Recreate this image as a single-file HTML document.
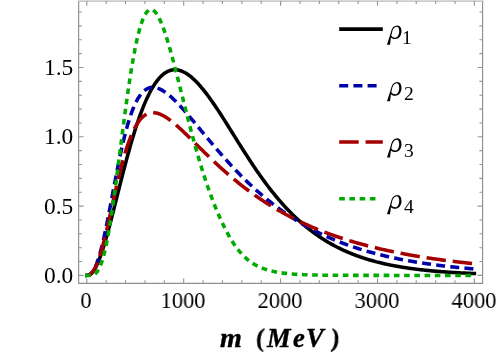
<!DOCTYPE html>
<html><head><meta charset="utf-8"><title>plot</title>
<style>
html,body{margin:0;padding:0;background:#fff;}
#c{position:relative;width:498px;height:353px;overflow:hidden;background:#fff;font-family:"Liberation Serif",serif;color:#000;}
.t{position:absolute;will-change:transform;white-space:nowrap;line-height:1;font-size:23.4px;}
.xl{transform:translateX(-50%) scaleX(0.96);top:288.8px;}
.yl{text-align:right;right:424.5px;}
.sub{font-size:19.5px;}
.ax{font-weight:bold;font-style:italic;font-size:26.5px;top:325px;-webkit-text-stroke:0.4px #000;}
</style></head><body><div id="c">
<svg width="498" height="353" viewBox="0 0 498 353" style="position:absolute;left:0;top:0">
<defs><path id="rho" fill-rule="evenodd" d="M386.99,44.29 L389.98,44.29 L390.95,37.2 C392.2,38.3 393.8,38.7 395.6,38.67 C399.2,38.6 401.6,34.6 401.5,30.7 C401.4,27.2 399.9,25.07 397.6,25.07 C395.4,25.07 393.8,26.0 392.7,27.4 C391.6,28.9 391.2,30.6 390.8,32.4 Z M391.3,35.3 C392.2,36.6 393.6,37.35 395.4,37.3 C397.8,37.2 399.3,33.9 399.2,30.7 C399.1,27.9 398.4,26.34 396.9,26.34 C394.2,26.4 392.7,29.3 392.1,31.8 Z"/></defs>
<path d="M86.80,275.40 L87.77,275.34 L88.74,275.11 L89.71,274.69 L90.68,274.05 L91.65,273.19 L92.61,272.11 L93.58,270.82 L94.55,269.31 L95.52,267.60 L96.49,265.70 L97.46,263.60 L98.43,261.33 L99.40,258.89 L100.37,256.29 L101.34,253.54 L102.30,250.66 L103.27,247.64 L104.24,244.51 L105.21,241.27 L106.18,237.93 L107.15,234.50 L108.12,230.99 L109.09,227.41 L110.06,223.77 L111.03,220.07 L111.99,216.33 L112.96,212.56 L113.93,208.75 L114.90,204.92 L115.87,201.08 L116.84,197.23 L117.81,193.38 L118.78,189.53 L119.75,185.69 L120.72,181.88 L121.68,178.08 L122.65,174.31 L123.62,170.57 L124.59,166.86 L125.56,163.20 L126.53,159.58 L127.50,156.01 L128.47,152.48 L129.44,149.02 L130.41,145.61 L131.37,142.26 L132.34,138.98 L133.31,135.76 L134.28,132.61 L135.25,129.53 L136.22,126.52 L137.19,123.58 L138.16,120.72 L139.13,117.93 L140.10,115.22 L141.06,112.59 L142.03,110.04 L143.00,107.57 L143.97,105.18 L144.94,102.87 L145.91,100.64 L146.88,98.49 L147.85,96.42 L148.82,94.44 L149.79,92.53 L150.75,90.71 L151.72,88.97 L152.69,87.31 L153.66,85.73 L154.63,84.23 L155.60,82.81 L156.57,81.46 L157.54,80.20 L158.51,79.01 L159.48,77.90 L160.44,76.87 L161.41,75.91 L162.38,75.02 L163.35,74.21 L164.32,73.47 L165.29,72.80 L166.26,72.19 L167.23,71.66 L168.20,71.20 L169.17,70.80 L170.13,70.47 L171.10,70.20 L172.07,69.99 L173.04,69.85 L174.01,69.77 L174.98,69.74 L175.95,69.78 L176.92,69.87 L177.89,70.02 L178.86,70.22 L179.82,70.47 L180.79,70.78 L181.76,71.14 L182.73,71.54 L183.70,72.00 L184.67,72.50 L185.64,73.05 L186.61,73.64 L187.58,74.28 L188.55,74.96 L189.51,75.68 L190.48,76.44 L191.45,77.24 L192.42,78.07 L193.39,78.95 L194.36,79.86 L195.33,80.80 L196.30,81.77 L197.27,82.78 L198.24,83.82 L199.20,84.89 L200.17,85.99 L201.14,87.12 L202.11,88.27 L203.08,89.45 L204.05,90.66 L205.02,91.88 L205.99,93.14 L206.96,94.41 L207.93,95.71 L208.89,97.02 L209.86,98.36 L210.83,99.71 L211.80,101.08 L212.77,102.47 L213.74,103.88 L214.71,105.29 L215.68,106.73 L216.65,108.17 L217.62,109.63 L218.58,111.10 L219.55,112.59 L220.52,114.08 L221.49,115.58 L222.46,117.09 L223.43,118.61 L224.40,120.13 L225.37,121.66 L226.34,123.20 L227.31,124.74 L228.27,126.28 L229.24,127.83 L230.21,129.38 L231.18,130.94 L232.15,132.49 L233.12,134.05 L234.09,135.60 L235.06,137.16 L236.03,138.71 L237.00,140.26 L237.96,141.81 L238.93,143.36 L239.90,144.90 L240.87,146.44 L241.84,147.97 L242.81,149.50 L243.78,151.02 L244.75,152.54 L245.72,154.05 L246.69,155.56 L247.65,157.05 L248.62,158.54 L249.59,160.03 L250.56,161.50 L251.53,162.96 L252.50,164.42 L253.47,165.87 L254.44,167.30 L255.41,168.73 L256.38,170.15 L257.34,171.55 L258.31,172.95 L259.28,174.33 L260.25,175.71 L261.22,177.07 L262.19,178.42 L263.16,179.76 L264.13,181.09 L265.10,182.41 L266.07,183.71 L267.03,185.00 L268.00,186.28 L268.97,187.55 L269.94,188.81 L270.91,190.05 L271.88,191.28 L272.85,192.50 L273.82,193.71 L274.79,194.90 L275.76,196.08 L276.72,197.25 L277.69,198.40 L278.66,199.55 L279.63,200.68 L280.60,201.79 L281.57,202.90 L282.54,203.99 L283.51,205.07 L284.48,206.14 L285.45,207.19 L286.41,208.23 L287.38,209.26 L288.35,210.28 L289.32,211.28 L290.29,212.28 L291.26,213.26 L292.23,214.22 L293.20,215.18 L294.17,216.12 L295.14,217.05 L296.10,217.97 L297.07,218.88 L298.04,219.78 L299.01,220.66 L299.98,221.53 L300.95,222.39 L301.92,223.24 L302.89,224.08 L303.86,224.91 L304.83,225.72 L305.79,226.53 L306.76,227.32 L307.73,228.10 L308.70,228.87 L309.67,229.64 L310.64,230.39 L311.61,231.12 L312.58,231.85 L313.55,232.57 L314.52,233.28 L315.48,233.98 L316.45,234.67 L317.42,235.35 L318.39,236.01 L319.36,236.67 L320.33,237.32 L321.30,237.96 L322.27,238.59 L323.24,239.21 L324.21,239.83 L325.17,240.43 L326.14,241.02 L327.11,241.61 L328.08,242.18 L329.05,242.75 L330.02,243.31 L330.99,243.86 L331.96,244.40 L332.93,244.93 L333.90,245.46 L334.86,245.97 L335.83,246.48 L336.80,246.98 L337.77,247.48 L338.74,247.96 L339.71,248.44 L340.68,248.91 L341.65,249.37 L342.62,249.83 L343.59,250.28 L344.55,250.72 L345.52,251.15 L346.49,251.58 L347.46,252.00 L348.43,252.41 L349.40,252.82 L350.37,253.22 L351.34,253.61 L352.31,254.00 L353.28,254.38 L354.24,254.76 L355.21,255.13 L356.18,255.49 L357.15,255.85 L358.12,256.20 L359.09,256.54 L360.06,256.88 L361.03,257.22 L362.00,257.54 L362.97,257.87 L363.93,258.18 L364.90,258.50 L365.87,258.80 L366.84,259.10 L367.81,259.40 L368.78,259.69 L369.75,259.98 L370.72,260.26 L371.69,260.54 L372.66,260.81 L373.62,261.08 L374.59,261.34 L375.56,261.60 L376.53,261.85 L377.50,262.10 L378.47,262.35 L379.44,262.59 L380.41,262.83 L381.38,263.06 L382.35,263.29 L383.31,263.51 L384.28,263.73 L385.25,263.95 L386.22,264.16 L387.19,264.37 L388.16,264.58 L389.13,264.78 L390.10,264.98 L391.07,265.17 L392.04,265.37 L393.00,265.55 L393.97,265.74 L394.94,265.92 L395.91,266.10 L396.88,266.28 L397.85,266.45 L398.82,266.62 L399.79,266.78 L400.76,266.95 L401.73,267.11 L402.69,267.26 L403.66,267.42 L404.63,267.57 L405.60,267.72 L406.57,267.86 L407.54,268.01 L408.51,268.15 L409.48,268.29 L410.45,268.42 L411.42,268.56 L412.38,268.69 L413.35,268.82 L414.32,268.94 L415.29,269.07 L416.26,269.19 L417.23,269.31 L418.20,269.43 L419.17,269.54 L420.14,269.65 L421.11,269.76 L422.07,269.87 L423.04,269.98 L424.01,270.09 L424.98,270.19 L425.95,270.29 L426.92,270.39 L427.89,270.49 L428.86,270.58 L429.83,270.68 L430.80,270.77 L431.76,270.86 L432.73,270.95 L433.70,271.03 L434.67,271.12 L435.64,271.20 L436.61,271.28 L437.58,271.36 L438.55,271.44 L439.52,271.52 L440.49,271.60 L441.45,271.67 L442.42,271.75 L443.39,271.82 L444.36,271.89 L445.33,271.96 L446.30,272.03 L447.27,272.09 L448.24,272.16 L449.21,272.22 L450.18,272.28 L451.14,272.35 L452.11,272.41 L453.08,272.47 L454.05,272.52 L455.02,272.58 L455.99,272.64 L456.96,272.69 L457.93,272.75 L458.90,272.80 L459.87,272.85 L460.83,272.90 L461.80,272.95 L462.77,273.00 L463.74,273.05 L464.71,273.09 L465.68,273.14 L466.65,273.19 L467.62,273.23 L468.59,273.27 L469.56,273.32 L470.52,273.36 L471.49,273.40 L472.46,273.44 L473.43,273.48 L474.40,273.52" fill="none" stroke="#000000" stroke-width="3.55" stroke-linejoin="round" stroke-linecap="square"/>
<path d="M86.80,275.40 L87.77,275.34 L88.74,275.11 L89.71,274.66 L90.68,273.96 L91.65,273.01 L92.61,271.78 L93.58,270.28 L94.55,268.49 L95.52,266.42 L96.49,264.07 L97.46,261.45 L98.43,258.55 L99.40,255.40 L100.37,251.99 L101.34,248.34 L102.30,244.47 L103.27,240.39 L104.24,236.11 L105.21,231.66 L106.18,227.05 L107.15,222.30 L108.12,217.43 L109.09,212.47 L110.06,207.44 L111.03,202.35 L111.99,197.24 L112.96,192.11 L113.93,186.99 L114.90,181.91 L115.87,176.87 L116.84,171.90 L117.81,167.02 L118.78,162.23 L119.75,157.55 L120.72,153.00 L121.68,148.58 L122.65,144.31 L123.62,140.19 L124.59,136.22 L125.56,132.42 L126.53,128.79 L127.50,125.33 L128.47,122.03 L129.44,118.91 L130.41,115.96 L131.37,113.18 L132.34,110.57 L133.31,108.12 L134.28,105.83 L135.25,103.71 L136.22,101.73 L137.19,99.91 L138.16,98.23 L139.13,96.70 L140.10,95.30 L141.06,94.03 L142.03,92.89 L143.00,91.87 L143.97,90.97 L144.94,90.19 L145.91,89.50 L146.88,88.93 L147.85,88.45 L148.82,88.06 L149.79,87.77 L150.75,87.56 L151.72,87.43 L152.69,87.38 L153.66,87.40 L154.63,87.49 L155.60,87.65 L156.57,87.88 L157.54,88.16 L158.51,88.50 L159.48,88.90 L160.44,89.34 L161.41,89.84 L162.38,90.38 L163.35,90.96 L164.32,91.59 L165.29,92.25 L166.26,92.96 L167.23,93.69 L168.20,94.46 L169.17,95.26 L170.13,96.09 L171.10,96.95 L172.07,97.83 L173.04,98.74 L174.01,99.67 L174.98,100.62 L175.95,101.59 L176.92,102.58 L177.89,103.59 L178.86,104.61 L179.82,105.65 L180.79,106.70 L181.76,107.77 L182.73,108.85 L183.70,109.93 L184.67,111.03 L185.64,112.14 L186.61,113.26 L187.58,114.38 L188.55,115.52 L189.51,116.66 L190.48,117.80 L191.45,118.95 L192.42,120.10 L193.39,121.26 L194.36,122.42 L195.33,123.59 L196.30,124.75 L197.27,125.92 L198.24,127.09 L199.20,128.26 L200.17,129.43 L201.14,130.60 L202.11,131.77 L203.08,132.94 L204.05,134.11 L205.02,135.27 L205.99,136.44 L206.96,137.60 L207.93,138.76 L208.89,139.92 L209.86,141.08 L210.83,142.23 L211.80,143.38 L212.77,144.53 L213.74,145.67 L214.71,146.81 L215.68,147.94 L216.65,149.07 L217.62,150.19 L218.58,151.31 L219.55,152.43 L220.52,153.54 L221.49,154.64 L222.46,155.74 L223.43,156.84 L224.40,157.93 L225.37,159.01 L226.34,160.09 L227.31,161.16 L228.27,162.23 L229.24,163.29 L230.21,164.34 L231.18,165.39 L232.15,166.43 L233.12,167.46 L234.09,168.49 L235.06,169.51 L236.03,170.53 L237.00,171.53 L237.96,172.54 L238.93,173.53 L239.90,174.52 L240.87,175.50 L241.84,176.48 L242.81,177.44 L243.78,178.40 L244.75,179.36 L245.72,180.31 L246.69,181.25 L247.65,182.18 L248.62,183.11 L249.59,184.03 L250.56,184.94 L251.53,185.84 L252.50,186.74 L253.47,187.63 L254.44,188.52 L255.41,189.40 L256.38,190.27 L257.34,191.13 L258.31,191.99 L259.28,192.84 L260.25,193.68 L261.22,194.52 L262.19,195.35 L263.16,196.17 L264.13,196.98 L265.10,197.79 L266.07,198.59 L267.03,199.39 L268.00,200.18 L268.97,200.96 L269.94,201.73 L270.91,202.50 L271.88,203.26 L272.85,204.01 L273.82,204.76 L274.79,205.50 L275.76,206.24 L276.72,206.97 L277.69,207.69 L278.66,208.40 L279.63,209.11 L280.60,209.81 L281.57,210.51 L282.54,211.20 L283.51,211.88 L284.48,212.56 L285.45,213.23 L286.41,213.89 L287.38,214.55 L288.35,215.20 L289.32,215.85 L290.29,216.49 L291.26,217.12 L292.23,217.75 L293.20,218.37 L294.17,218.98 L295.14,219.59 L296.10,220.20 L297.07,220.80 L298.04,221.39 L299.01,221.98 L299.98,222.56 L300.95,223.13 L301.92,223.70 L302.89,224.27 L303.86,224.82 L304.83,225.38 L305.79,225.93 L306.76,226.47 L307.73,227.00 L308.70,227.54 L309.67,228.06 L310.64,228.58 L311.61,229.10 L312.58,229.61 L313.55,230.12 L314.52,230.62 L315.48,231.11 L316.45,231.60 L317.42,232.09 L318.39,232.57 L319.36,233.04 L320.33,233.52 L321.30,233.98 L322.27,234.44 L323.24,234.90 L324.21,235.35 L325.17,235.80 L326.14,236.24 L327.11,236.68 L328.08,237.11 L329.05,237.54 L330.02,237.97 L330.99,238.39 L331.96,238.80 L332.93,239.22 L333.90,239.62 L334.86,240.03 L335.83,240.42 L336.80,240.82 L337.77,241.21 L338.74,241.60 L339.71,241.98 L340.68,242.36 L341.65,242.73 L342.62,243.10 L343.59,243.47 L344.55,243.83 L345.52,244.19 L346.49,244.54 L347.46,244.90 L348.43,245.24 L349.40,245.59 L350.37,245.93 L351.34,246.26 L352.31,246.60 L353.28,246.93 L354.24,247.25 L355.21,247.57 L356.18,247.89 L357.15,248.21 L358.12,248.52 L359.09,248.83 L360.06,249.13 L361.03,249.43 L362.00,249.73 L362.97,250.03 L363.93,250.32 L364.90,250.61 L365.87,250.89 L366.84,251.18 L367.81,251.46 L368.78,251.73 L369.75,252.01 L370.72,252.28 L371.69,252.54 L372.66,252.81 L373.62,253.07 L374.59,253.33 L375.56,253.59 L376.53,253.84 L377.50,254.09 L378.47,254.34 L379.44,254.58 L380.41,254.82 L381.38,255.06 L382.35,255.30 L383.31,255.53 L384.28,255.77 L385.25,255.99 L386.22,256.22 L387.19,256.44 L388.16,256.67 L389.13,256.88 L390.10,257.10 L391.07,257.32 L392.04,257.53 L393.00,257.74 L393.97,257.94 L394.94,258.15 L395.91,258.35 L396.88,258.55 L397.85,258.75 L398.82,258.94 L399.79,259.14 L400.76,259.33 L401.73,259.52 L402.69,259.70 L403.66,259.89 L404.63,260.07 L405.60,260.25 L406.57,260.43 L407.54,260.61 L408.51,260.78 L409.48,260.95 L410.45,261.12 L411.42,261.29 L412.38,261.46 L413.35,261.62 L414.32,261.79 L415.29,261.95 L416.26,262.11 L417.23,262.27 L418.20,262.42 L419.17,262.57 L420.14,262.73 L421.11,262.88 L422.07,263.03 L423.04,263.17 L424.01,263.32 L424.98,263.46 L425.95,263.60 L426.92,263.74 L427.89,263.88 L428.86,264.02 L429.83,264.16 L430.80,264.29 L431.76,264.42 L432.73,264.55 L433.70,264.68 L434.67,264.81 L435.64,264.94 L436.61,265.06 L437.58,265.18 L438.55,265.31 L439.52,265.43 L440.49,265.55 L441.45,265.66 L442.42,265.78 L443.39,265.90 L444.36,266.01 L445.33,266.12 L446.30,266.23 L447.27,266.34 L448.24,266.45 L449.21,266.56 L450.18,266.67 L451.14,266.77 L452.11,266.87 L453.08,266.98 L454.05,267.08 L455.02,267.18 L455.99,267.28 L456.96,267.37 L457.93,267.47 L458.90,267.57 L459.87,267.66 L460.83,267.75 L461.80,267.85 L462.77,267.94 L463.74,268.03 L464.71,268.12 L465.68,268.20 L466.65,268.29 L467.62,268.38 L468.59,268.46 L469.56,268.54 L470.52,268.63 L471.49,268.71 L472.46,268.79 L473.43,268.87 L474.40,268.95" fill="none" stroke="#0000a8" stroke-width="3.55" stroke-dasharray="5.45 8.75" stroke-linejoin="round" stroke-linecap="square"/>
<path d="M86.80,275.40 L87.77,275.34 L88.74,275.12 L89.71,274.69 L90.68,274.04 L91.65,273.16 L92.61,272.03 L93.58,270.65 L94.55,269.01 L95.52,267.13 L96.49,265.00 L97.46,262.63 L98.43,260.02 L99.40,257.18 L100.37,254.13 L101.34,250.88 L102.30,247.45 L103.27,243.84 L104.24,240.07 L105.21,236.17 L106.18,232.14 L107.15,228.01 L108.12,223.79 L109.09,219.51 L110.06,215.18 L111.03,210.82 L111.99,206.45 L112.96,202.07 L113.93,197.72 L114.90,193.41 L115.87,189.14 L116.84,184.93 L117.81,180.80 L118.78,176.76 L119.75,172.81 L120.72,168.97 L121.68,165.24 L122.65,161.62 L123.62,158.14 L124.59,154.78 L125.56,151.56 L126.53,148.47 L127.50,145.53 L128.47,142.72 L129.44,140.06 L130.41,137.53 L131.37,135.15 L132.34,132.90 L133.31,130.80 L134.28,128.82 L135.25,126.98 L136.22,125.27 L137.19,123.69 L138.16,122.23 L139.13,120.89 L140.10,119.67 L141.06,118.56 L142.03,117.56 L143.00,116.66 L143.97,115.87 L144.94,115.17 L145.91,114.57 L146.88,114.06 L147.85,113.63 L148.82,113.29 L149.79,113.02 L150.75,112.83 L151.72,112.71 L152.69,112.66 L153.66,112.68 L154.63,112.76 L155.60,112.89 L156.57,113.08 L157.54,113.33 L158.51,113.62 L159.48,113.97 L160.44,114.35 L161.41,114.78 L162.38,115.25 L163.35,115.76 L164.32,116.30 L165.29,116.88 L166.26,117.49 L167.23,118.13 L168.20,118.79 L169.17,119.48 L170.13,120.20 L171.10,120.94 L172.07,121.70 L173.04,122.48 L174.01,123.27 L174.98,124.09 L175.95,124.92 L176.92,125.76 L177.89,126.62 L178.86,127.49 L179.82,128.38 L180.79,129.27 L181.76,130.17 L182.73,131.08 L183.70,132.00 L184.67,132.92 L185.64,133.86 L186.61,134.79 L187.58,135.74 L188.55,136.68 L189.51,137.63 L190.48,138.58 L191.45,139.54 L192.42,140.50 L193.39,141.46 L194.36,142.42 L195.33,143.38 L196.30,144.34 L197.27,145.30 L198.24,146.26 L199.20,147.21 L200.17,148.17 L201.14,149.13 L202.11,150.08 L203.08,151.03 L204.05,151.98 L205.02,152.93 L205.99,153.87 L206.96,154.81 L207.93,155.75 L208.89,156.69 L209.86,157.62 L210.83,158.54 L211.80,159.47 L212.77,160.38 L213.74,161.30 L214.71,162.21 L215.68,163.11 L216.65,164.01 L217.62,164.91 L218.58,165.80 L219.55,166.69 L220.52,167.57 L221.49,168.44 L222.46,169.31 L223.43,170.18 L224.40,171.04 L225.37,171.89 L226.34,172.74 L227.31,173.59 L228.27,174.43 L229.24,175.26 L230.21,176.09 L231.18,176.91 L232.15,177.72 L233.12,178.53 L234.09,179.34 L235.06,180.14 L236.03,180.93 L237.00,181.72 L237.96,182.50 L238.93,183.28 L239.90,184.05 L240.87,184.82 L241.84,185.58 L242.81,186.33 L243.78,187.08 L244.75,187.82 L245.72,188.56 L246.69,189.29 L247.65,190.02 L248.62,190.74 L249.59,191.45 L250.56,192.16 L251.53,192.86 L252.50,193.56 L253.47,194.25 L254.44,194.94 L255.41,195.62 L256.38,196.30 L257.34,196.97 L258.31,197.64 L259.28,198.30 L260.25,198.95 L261.22,199.60 L262.19,200.25 L263.16,200.88 L264.13,201.52 L265.10,202.15 L266.07,202.77 L267.03,203.39 L268.00,204.00 L268.97,204.61 L269.94,205.21 L270.91,205.81 L271.88,206.40 L272.85,206.99 L273.82,207.58 L274.79,208.15 L275.76,208.73 L276.72,209.30 L277.69,209.86 L278.66,210.42 L279.63,210.97 L280.60,211.52 L281.57,212.07 L282.54,212.61 L283.51,213.15 L284.48,213.68 L285.45,214.21 L286.41,214.73 L287.38,215.25 L288.35,215.76 L289.32,216.27 L290.29,216.78 L291.26,217.28 L292.23,217.77 L293.20,218.27 L294.17,218.75 L295.14,219.24 L296.10,219.72 L297.07,220.19 L298.04,220.66 L299.01,221.13 L299.98,221.60 L300.95,222.06 L301.92,222.51 L302.89,222.96 L303.86,223.41 L304.83,223.86 L305.79,224.30 L306.76,224.73 L307.73,225.17 L308.70,225.59 L309.67,226.02 L310.64,226.44 L311.61,226.86 L312.58,227.27 L313.55,227.68 L314.52,228.09 L315.48,228.50 L316.45,228.90 L317.42,229.29 L318.39,229.69 L319.36,230.08 L320.33,230.46 L321.30,230.85 L322.27,231.23 L323.24,231.60 L324.21,231.98 L325.17,232.35 L326.14,232.71 L327.11,233.08 L328.08,233.44 L329.05,233.80 L330.02,234.15 L330.99,234.50 L331.96,234.85 L332.93,235.20 L333.90,235.54 L334.86,235.88 L335.83,236.22 L336.80,236.55 L337.77,236.88 L338.74,237.21 L339.71,237.53 L340.68,237.86 L341.65,238.18 L342.62,238.49 L343.59,238.81 L344.55,239.12 L345.52,239.43 L346.49,239.73 L347.46,240.04 L348.43,240.34 L349.40,240.64 L350.37,240.93 L351.34,241.22 L352.31,241.51 L353.28,241.80 L354.24,242.09 L355.21,242.37 L356.18,242.65 L357.15,242.93 L358.12,243.20 L359.09,243.48 L360.06,243.75 L361.03,244.02 L362.00,244.28 L362.97,244.55 L363.93,244.81 L364.90,245.07 L365.87,245.33 L366.84,245.58 L367.81,245.83 L368.78,246.09 L369.75,246.33 L370.72,246.58 L371.69,246.82 L372.66,247.07 L373.62,247.31 L374.59,247.54 L375.56,247.78 L376.53,248.01 L377.50,248.25 L378.47,248.48 L379.44,248.70 L380.41,248.93 L381.38,249.15 L382.35,249.38 L383.31,249.60 L384.28,249.81 L385.25,250.03 L386.22,250.25 L387.19,250.46 L388.16,250.67 L389.13,250.88 L390.10,251.09 L391.07,251.29 L392.04,251.49 L393.00,251.70 L393.97,251.90 L394.94,252.10 L395.91,252.29 L396.88,252.49 L397.85,252.68 L398.82,252.87 L399.79,253.06 L400.76,253.25 L401.73,253.44 L402.69,253.62 L403.66,253.81 L404.63,253.99 L405.60,254.17 L406.57,254.35 L407.54,254.53 L408.51,254.70 L409.48,254.88 L410.45,255.05 L411.42,255.22 L412.38,255.39 L413.35,255.56 L414.32,255.73 L415.29,255.89 L416.26,256.06 L417.23,256.22 L418.20,256.38 L419.17,256.54 L420.14,256.70 L421.11,256.86 L422.07,257.01 L423.04,257.17 L424.01,257.32 L424.98,257.47 L425.95,257.62 L426.92,257.77 L427.89,257.92 L428.86,258.07 L429.83,258.21 L430.80,258.36 L431.76,258.50 L432.73,258.64 L433.70,258.78 L434.67,258.92 L435.64,259.06 L436.61,259.20 L437.58,259.34 L438.55,259.47 L439.52,259.60 L440.49,259.74 L441.45,259.87 L442.42,260.00 L443.39,260.13 L444.36,260.26 L445.33,260.38 L446.30,260.51 L447.27,260.63 L448.24,260.76 L449.21,260.88 L450.18,261.00 L451.14,261.12 L452.11,261.24 L453.08,261.36 L454.05,261.48 L455.02,261.59 L455.99,261.71 L456.96,261.82 L457.93,261.94 L458.90,262.05 L459.87,262.16 L460.83,262.27 L461.80,262.38 L462.77,262.49 L463.74,262.60 L464.71,262.71 L465.68,262.81 L466.65,262.92 L467.62,263.02 L468.59,263.13 L469.56,263.23 L470.52,263.33 L471.49,263.43 L472.46,263.53 L473.43,263.63 L474.40,263.73" fill="none" stroke="#a50000" stroke-width="3.55" stroke-dasharray="15.95 10.43" stroke-linejoin="round" stroke-linecap="square"/>
<path d="M86.80,275.40 L87.77,275.40 L88.74,275.40 L89.71,275.38 L90.68,275.32 L91.65,275.20 L92.61,274.99 L93.58,274.65 L94.55,274.15 L95.52,273.45 L96.49,272.52 L97.46,271.31 L98.43,269.81 L99.40,267.99 L100.37,265.83 L101.34,263.30 L102.30,260.40 L103.27,257.12 L104.24,253.46 L105.21,249.41 L106.18,244.98 L107.15,240.19 L108.12,235.04 L109.09,229.55 L110.06,223.74 L111.03,217.63 L111.99,211.24 L112.96,204.61 L113.93,197.76 L114.90,190.72 L115.87,183.51 L116.84,176.17 L117.81,168.73 L118.78,161.22 L119.75,153.67 L120.72,146.10 L121.68,138.55 L122.65,131.04 L123.62,123.60 L124.59,116.26 L125.56,109.04 L126.53,101.97 L127.50,95.06 L128.47,88.34 L129.44,81.83 L130.41,75.53 L131.37,69.48 L132.34,63.67 L133.31,58.14 L134.28,52.87 L135.25,47.89 L136.22,43.21 L137.19,38.82 L138.16,34.74 L139.13,30.96 L140.10,27.50 L141.06,24.35 L142.03,21.51 L143.00,18.98 L143.97,16.76 L144.94,14.85 L145.91,13.24 L146.88,11.93 L147.85,10.91 L148.82,10.18 L149.79,9.72 L150.75,9.55 L151.72,9.63 L152.69,9.97 L153.66,10.57 L154.63,11.40 L155.60,12.46 L156.57,13.74 L157.54,15.24 L158.51,16.94 L159.48,18.83 L160.44,20.90 L161.41,23.15 L162.38,25.56 L163.35,28.12 L164.32,30.83 L165.29,33.67 L166.26,36.64 L167.23,39.72 L168.20,42.91 L169.17,46.20 L170.13,49.58 L171.10,53.04 L172.07,56.57 L173.04,60.17 L174.01,63.82 L174.98,67.53 L175.95,71.27 L176.92,75.05 L177.89,78.86 L178.86,82.70 L179.82,86.55 L180.79,90.41 L181.76,94.27 L182.73,98.13 L183.70,101.99 L184.67,105.84 L185.64,109.68 L186.61,113.49 L187.58,117.29 L188.55,121.06 L189.51,124.79 L190.48,128.50 L191.45,132.17 L192.42,135.80 L193.39,139.39 L194.36,142.94 L195.33,146.44 L196.30,149.89 L197.27,153.30 L198.24,156.65 L199.20,159.96 L200.17,163.21 L201.14,166.41 L202.11,169.55 L203.08,172.64 L204.05,175.68 L205.02,178.66 L205.99,181.58 L206.96,184.45 L207.93,187.27 L208.89,190.03 L209.86,192.73 L210.83,195.38 L211.80,197.98 L212.77,200.53 L213.74,203.03 L214.71,205.47 L215.68,207.87 L216.65,210.21 L217.62,212.51 L218.58,214.76 L219.55,216.96 L220.52,219.11 L221.49,221.22 L222.46,223.28 L223.43,225.29 L224.40,227.25 L225.37,229.17 L226.34,231.04 L227.31,232.86 L228.27,234.63 L229.24,236.35 L230.21,238.03 L231.18,239.65 L232.15,241.21 L233.12,242.73 L234.09,244.20 L235.06,245.61 L236.03,246.98 L237.00,248.29 L237.96,249.55 L238.93,250.77 L239.90,251.93 L240.87,253.05 L241.84,254.12 L242.81,255.14 L243.78,256.12 L244.75,257.06 L245.72,257.95 L246.69,258.80 L247.65,259.62 L248.62,260.40 L249.59,261.14 L250.56,261.85 L251.53,262.52 L252.50,263.17 L253.47,263.78 L254.44,264.36 L255.41,264.92 L256.38,265.45 L257.34,265.95 L258.31,266.43 L259.28,266.88 L260.25,267.31 L261.22,267.73 L262.19,268.12 L263.16,268.49 L264.13,268.84 L265.10,269.18 L266.07,269.50 L267.03,269.80 L268.00,270.09 L268.97,270.36 L269.94,270.62 L270.91,270.87 L271.88,271.10 L272.85,271.33 L273.82,271.54 L274.79,271.74 L275.76,271.93 L276.72,272.11 L277.69,272.28 L278.66,272.44 L279.63,272.60 L280.60,272.74 L281.57,272.88 L282.54,273.01 L283.51,273.14 L284.48,273.26 L285.45,273.37 L286.41,273.48 L287.38,273.58 L288.35,273.68 L289.32,273.77 L290.29,273.85 L291.26,273.93 L292.23,274.01 L293.20,274.09 L294.17,274.16 L295.14,274.22 L296.10,274.28 L297.07,274.34 L298.04,274.40 L299.01,274.45 L299.98,274.50 L300.95,274.55 L301.92,274.60 L302.89,274.64 L303.86,274.68 L304.83,274.72 L305.79,274.76 L306.76,274.79 L307.73,274.82 L308.70,274.85 L309.67,274.88 L310.64,274.91 L311.61,274.94 L312.58,274.96 L313.55,274.99 L314.52,275.01 L315.48,275.03 L316.45,275.05 L317.42,275.07 L318.39,275.09 L319.36,275.10 L320.33,275.12 L321.30,275.13 L322.27,275.15 L323.24,275.16 L324.21,275.18 L325.17,275.19 L326.14,275.20 L327.11,275.21 L328.08,275.22 L329.05,275.23 L330.02,275.24 L330.99,275.25 L331.96,275.26 L332.93,275.26 L333.90,275.27 L334.86,275.28 L335.83,275.29 L336.80,275.29 L337.77,275.30 L338.74,275.30 L339.71,275.31 L340.68,275.31 L341.65,275.32 L342.62,275.32 L343.59,275.33 L344.55,275.33 L345.52,275.34 L346.49,275.34 L347.46,275.34 L348.43,275.35 L349.40,275.35 L350.37,275.35 L351.34,275.35 L352.31,275.36 L353.28,275.36 L354.24,275.36 L355.21,275.36 L356.18,275.37 L357.15,275.37 L358.12,275.37 L359.09,275.37 L360.06,275.37 L361.03,275.37 L362.00,275.38 L362.97,275.38 L363.93,275.38 L364.90,275.38 L365.87,275.38 L366.84,275.38 L367.81,275.38 L368.78,275.38 L369.75,275.38 L370.72,275.39 L371.69,275.39 L372.66,275.39 L373.62,275.39 L374.59,275.39 L375.56,275.39 L376.53,275.39 L377.50,275.39 L378.47,275.39 L379.44,275.39 L380.41,275.39 L381.38,275.39 L382.35,275.39 L383.31,275.39 L384.28,275.39 L385.25,275.39 L386.22,275.39 L387.19,275.39 L388.16,275.39 L389.13,275.40 L390.10,275.40 L391.07,275.40 L392.04,275.40 L393.00,275.40 L393.97,275.40 L394.94,275.40 L395.91,275.40 L396.88,275.40 L397.85,275.40 L398.82,275.40 L399.79,275.40 L400.76,275.40 L401.73,275.40 L402.69,275.40 L403.66,275.40 L404.63,275.40 L405.60,275.40 L406.57,275.40 L407.54,275.40 L408.51,275.40 L409.48,275.40 L410.45,275.40 L411.42,275.40 L412.38,275.40 L413.35,275.40 L414.32,275.40 L415.29,275.40 L416.26,275.40 L417.23,275.40 L418.20,275.40 L419.17,275.40 L420.14,275.40 L421.11,275.40 L422.07,275.40 L423.04,275.40 L424.01,275.40 L424.98,275.40 L425.95,275.40 L426.92,275.40 L427.89,275.40 L428.86,275.40 L429.83,275.40 L430.80,275.40 L431.76,275.40 L432.73,275.40 L433.70,275.40 L434.67,275.40 L435.64,275.40 L436.61,275.40 L437.58,275.40 L438.55,275.40 L439.52,275.40 L440.49,275.40 L441.45,275.40 L442.42,275.40 L443.39,275.40 L444.36,275.40 L445.33,275.40 L446.30,275.40 L447.27,275.40 L448.24,275.40 L449.21,275.40 L450.18,275.40 L451.14,275.40 L452.11,275.40 L453.08,275.40 L454.05,275.40 L455.02,275.40 L455.99,275.40 L456.96,275.40 L457.93,275.40 L458.90,275.40 L459.87,275.40 L460.83,275.40 L461.80,275.40 L462.77,275.40 L463.74,275.40 L464.71,275.40 L465.68,275.40 L466.65,275.40 L467.62,275.40 L468.59,275.40 L469.56,275.40 L470.52,275.40 L471.49,275.40 L472.46,275.40 L473.43,275.40 L474.40,275.40" fill="none" stroke="#00aa00" stroke-width="3.55" stroke-dasharray="2.05 8.17" stroke-linejoin="round" stroke-linecap="square"/>
<path d="M78.65,0V283.4H482.6V0" fill="none" stroke="#8f8f8f" stroke-width="1.15"/>
<path d="M78.05,0.5H483.20" fill="none" stroke="#dedede" stroke-width="1"/>
<path d="M78.05,1.4H483.20" fill="none" stroke="#b8b8b8" stroke-width="0.8"/>
<path d="M86.80,283.4v-5.0M86.80,1.00v4.70M106.18,283.4v-3.2M106.18,1.00v2.90M125.56,283.4v-3.2M125.56,1.00v2.90M144.94,283.4v-3.2M144.94,1.00v2.90M164.32,283.4v-3.2M164.32,1.00v2.90M183.70,283.4v-5.0M183.70,1.00v4.70M203.08,283.4v-3.2M203.08,1.00v2.90M222.46,283.4v-3.2M222.46,1.00v2.90M241.84,283.4v-3.2M241.84,1.00v2.90M261.22,283.4v-3.2M261.22,1.00v2.90M280.60,283.4v-5.0M280.60,1.00v4.70M299.98,283.4v-3.2M299.98,1.00v2.90M319.36,283.4v-3.2M319.36,1.00v2.90M338.74,283.4v-3.2M338.74,1.00v2.90M358.12,283.4v-3.2M358.12,1.00v2.90M377.50,283.4v-5.0M377.50,1.00v4.70M396.88,283.4v-3.2M396.88,1.00v2.90M416.26,283.4v-3.2M416.26,1.00v2.90M435.64,283.4v-3.2M435.64,1.00v2.90M455.02,283.4v-3.2M455.02,1.00v2.90M474.40,283.4v-5.0M474.40,1.00v4.70M78.65,275.40h5.0M482.6,275.40h-5.0M78.65,261.54h3.2M482.6,261.54h-3.2M78.65,247.68h3.2M482.6,247.68h-3.2M78.65,233.82h3.2M482.6,233.82h-3.2M78.65,219.96h3.2M482.6,219.96h-3.2M78.65,206.10h5.0M482.6,206.10h-5.0M78.65,192.24h3.2M482.6,192.24h-3.2M78.65,178.38h3.2M482.6,178.38h-3.2M78.65,164.52h3.2M482.6,164.52h-3.2M78.65,150.66h3.2M482.6,150.66h-3.2M78.65,136.80h5.0M482.6,136.80h-5.0M78.65,122.94h3.2M482.6,122.94h-3.2M78.65,109.08h3.2M482.6,109.08h-3.2M78.65,95.22h3.2M482.6,95.22h-3.2M78.65,81.36h3.2M482.6,81.36h-3.2M78.65,67.50h5.0M482.6,67.50h-5.0M78.65,53.64h3.2M482.6,53.64h-3.2M78.65,39.78h3.2M482.6,39.78h-3.2M78.65,25.92h3.2M482.6,25.92h-3.2M78.65,12.06h3.2M482.6,12.06h-3.2" fill="none" stroke="#949494" stroke-width="1.1"/>
<path d="M340.97,29.1H381.03" fill="none" stroke="#000000" stroke-width="3.55" stroke-linecap="square"/>
<path d="M340.97,85.7H381.03" fill="none" stroke="#0000a8" stroke-width="3.55" stroke-dasharray="5.45 8.75" stroke-linecap="square"/>
<path d="M340.97,142.0H381.03" fill="none" stroke="#a50000" stroke-width="3.55" stroke-dasharray="15.95 10.43" stroke-linecap="square"/>
<path d="M340.97,198.7H381.03" fill="none" stroke="#00aa00" stroke-width="3.55" stroke-dasharray="2.05 8.17" stroke-linecap="square"/>
<use href="#rho" y="0.40"/>
<use href="#rho" y="57.00"/>
<use href="#rho" y="113.30"/>
<use href="#rho" y="170.00"/>
</svg>
<div class="t xl" style="left:86.3px">0</div>
<div class="t xl" style="left:183.1px">1000</div>
<div class="t xl" style="left:280.0px">2000</div>
<div class="t xl" style="left:376.9px">3000</div>
<div class="t xl" style="left:473.8px">4000</div>
<div class="t yl" style="top:263.9px">0.0</div>
<div class="t yl" style="top:194.6px">0.5</div>
<div class="t yl" style="top:125.2px">1.0</div>
<div class="t yl" style="top:55.9px">1.5</div>
<div class="t sub" style="left:402.2px;top:27.6px">1</div>
<div class="t sub" style="left:403.8px;top:84.3px">2</div>
<div class="t sub" style="left:403.8px;top:140.7px">3</div>
<div class="t sub" style="left:404.1px;top:197.1px">4</div>
<div class="t ax" style="left:220px;transform-origin:0 50%;transform:scaleX(1.06)">m</div>
<div class="t ax" style="left:255.2px;transform-origin:50% 40%;transform:skewX(6deg) scale(0.95,0.94)">(</div>
<div class="t ax" style="left:267.2px">M</div>
<div class="t ax" style="left:293.4px">e</div>
<div class="t ax" style="left:306.3px">V</div>
<div class="t ax" style="left:331.0px;transform-origin:50% 40%;transform:skewX(6deg) scale(0.95,0.94)">)</div>
</div></body></html>
